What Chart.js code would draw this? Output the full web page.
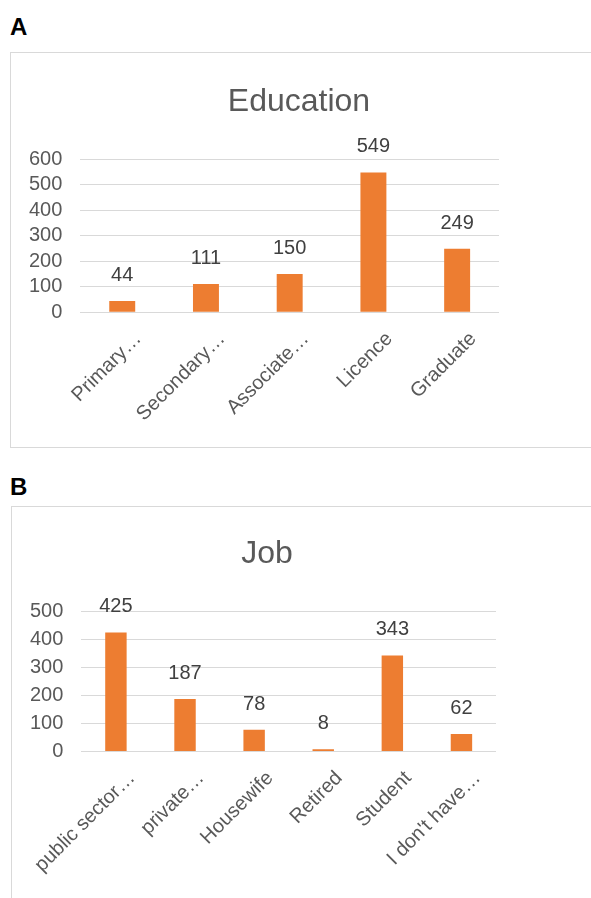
<!DOCTYPE html>
<html>
<head>
<meta charset="utf-8">
<script src="https://cdn.jsdelivr.net/npm/chart.js@4.4.1/dist/chart.umd.min.js"></script>
<style>
    body { margin: 0; background: #fff; width: 591px; height: 898px; overflow: hidden; position: relative; font-family: "Liberation Sans", Arial, sans-serif; }
    .tag { position: absolute; font-weight: bold; font-size: 24px; line-height: 24px; color: #000; }
    .box { position: absolute; border: 1px solid #d9d9d9; box-sizing: border-box; }
    .box canvas { position: absolute; }
</style>
</head>
<body>
<div class="tag" style="left:10px; top:15px;">A</div>
<div class="box" style="left:10px; top:52px; width:600px; height:396px;">
    <canvas id="eduChart" style="left:0px; top:0px;" width="576" height="394"></canvas>
</div>
<div class="tag" style="left:10px; top:475px;">B</div>
<div class="box" style="left:11px; top:506px; width:600px; height:420px;">
    <canvas id="jobChart" style="left:0px; top:0px;" width="510" height="391"></canvas>
</div>
<script>
// data
const eduLabels = ["Primary…", "Secondary…", "Associate…", "Licence", "Graduate"];
const eduValues = [44, 111, 150, 549, 249];
const eduTicks = [0, 100, 200, 300, 400, 500, 600];

const jobLabels = ["public sector…", "private…", "Housewife", "Retired", "Student", "I don't have…"];
const jobValues = [425, 187, 78, 8, 343, 62];
const jobTicks = [0, 100, 200, 300, 400, 500];

const FONT = "'Liberation Sans', Arial, sans-serif";
const ORANGE = '#ED7D31';

// value labels above every bar
const barValues = {
    id: 'barValues',
    afterDatasetsDraw(chart) {
        const ctx = chart.ctx;
        ctx.save();
        ctx.font = '20px ' + FONT;
        ctx.fillStyle = '#404040';
        ctx.textAlign = 'center';
        ctx.textBaseline = 'alphabetic';
        chart.getDatasetMeta(0).data.forEach(function (bar, i) {
            ctx.fillText(chart.data.datasets[0].data[i], bar.x, bar.y - 20);
        });
        ctx.restore();
    }
};

function makeChart(id, title, labels, values, ticks, rightGap, titlePad) {
    return new Chart(id, {
        type: 'bar',
        data: {
            labels: labels,
            datasets: [{
                data: values,
                backgroundColor: ORANGE,
                barPercentage: 0.31,
                categoryPercentage: 1
            }]
        },
        options: {
            responsive: false,
            animation: false,
            layout: { padding: { left: 0, right: 0, top: 0, bottom: 6 } },
            plugins: {
                legend: { display: false },
                tooltip: { enabled: false },
                title: {
                    display: true,
                    text: title,
                    color: '#595959',
                    font: { family: FONT, size: 32, weight: 'normal', lineHeight: 1.2 },
                    padding: titlePad
                }
            },
            scales: {
                x: {
                    grid: { display: false, drawTicks: false },
                    border: { display: false },
                    ticks: {
                        autoSkip: false,
                        minRotation: 45,
                        maxRotation: 45,
                        labelOffset: 16,
                        padding: 15,
                        color: '#595959',
                        font: { family: FONT, size: 20 }
                    },
                    // long first label should not push the plot to the right
                    afterFit: function (axis) {
                        axis.paddingLeft = 0;
                        axis.paddingRight = 0;
                    }
                },
                y: {
                    min: ticks[0],
                    max: ticks[ticks.length - 1],
                    afterBuildTicks: function (axis) {
                        axis.ticks = ticks.map(function (v) { return { value: v }; });
                    },
                    grid: { color: '#d9d9d9', drawTicks: false },
                    border: { display: false },
                    ticks: {
                        autoSkip: false,
                        padding: 18,
                        color: '#595959',
                        font: { family: FONT, size: 20 }
                    }
                },
                // empty right-hand axis, keeps the plot narrower than the title area
                gap: {
                    position: 'right',
                    type: 'linear',
                    grid: { display: false, drawTicks: false },
                    border: { display: false },
                    ticks: { display: false },
                    afterFit: function (axis) { axis.width = rightGap; }
                }
            }
        },
        plugins: [barValues]
    });
}

makeChart('eduChart', 'Education', eduLabels, eduValues, eduTicks, 88, { top: 30, bottom: 38 });
makeChart('jobChart', 'Job', jobLabels, jobValues, jobTicks, 26, { top: 28, bottom: 38 });
</script>
</body>
</html>
